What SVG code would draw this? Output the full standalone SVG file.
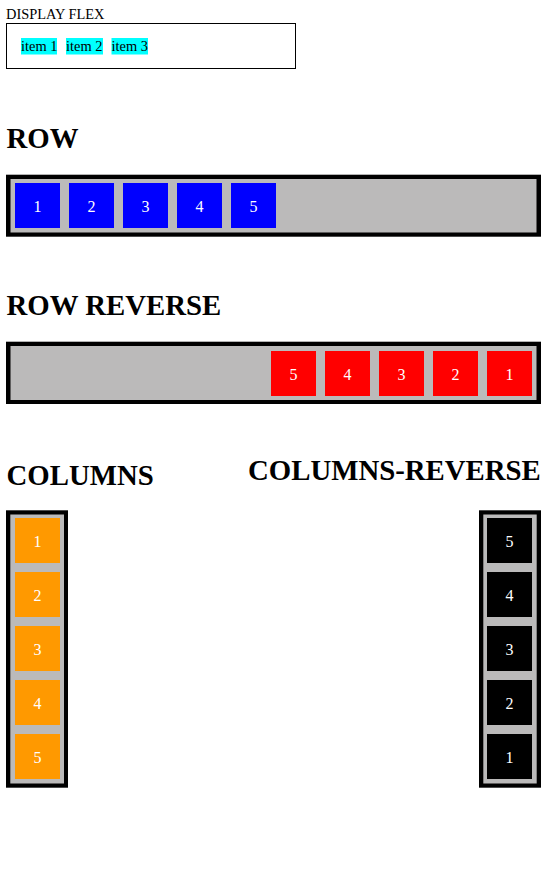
<svg xmlns="http://www.w3.org/2000/svg" width="545" height="881" viewBox="0 0 545 881">
<style>
text{font-family:"Liberation Serif","Times New Roman",serif}
.h{font-size:28.8px;font-weight:bold;fill:#000}
.s{font-size:14.4px;fill:#000}
.n{font-size:16px;fill:#fff;text-anchor:middle}
.frame{fill:#000}
.gray{fill:#bbbaba}
.blue{fill:#0000ff}
.red{fill:#ff0000}
.orange{fill:#ff9900}
.black{fill:#000}
.cyan{fill:#00ffff}
</style>
<rect width="545" height="881" fill="#fff"/>
<g id="display-flex">
<text class="s" x="6" y="19">DISPLAY FLEX</text>
<rect x="6.5" y="23.5" width="289" height="45" fill="none" stroke="#000" stroke-width="1"/>
<rect class="cyan" x="21" y="38" width="36" height="16.5"/>
<rect class="cyan" x="66" y="38" width="37" height="16.5"/>
<rect class="cyan" x="111.5" y="38" width="36.5" height="16.5"/>
<text class="s" x="21" y="50.5">item 1</text>
<text class="s" x="66" y="50.5">item 2</text>
<text class="s" x="111.5" y="50.5">item 3</text>
</g>
<g id="row">
<text class="h" x="6.5" y="147.5">ROW</text>
<rect class="frame" x="6" y="174.7" width="535" height="62"/>
<rect class="gray" x="10.5" y="179" width="526" height="53.5"/>
<rect class="blue" x="15" y="183" width="45" height="45"/><text class="n" x="37.5" y="211.5">1</text>
<rect class="blue" x="69" y="183" width="45" height="45"/><text class="n" x="91.5" y="211.5">2</text>
<rect class="blue" x="123" y="183" width="45" height="45"/><text class="n" x="145.5" y="211.5">3</text>
<rect class="blue" x="177" y="183" width="45" height="45"/><text class="n" x="199.5" y="211.5">4</text>
<rect class="blue" x="231" y="183" width="45" height="45"/><text class="n" x="253.5" y="211.5">5</text>
</g>
<g id="row-reverse">
<text class="h" x="6.5" y="315">ROW REVERSE</text>
<rect class="frame" x="6" y="341.7" width="535" height="62.3"/>
<rect class="gray" x="10.5" y="346" width="526" height="54"/>
<rect class="red" x="271" y="351" width="45" height="45"/><text class="n" x="293.5" y="379.5">5</text>
<rect class="red" x="325" y="351" width="45" height="45"/><text class="n" x="347.5" y="379.5">4</text>
<rect class="red" x="379" y="351" width="45" height="45"/><text class="n" x="401.5" y="379.5">3</text>
<rect class="red" x="433" y="351" width="45" height="45"/><text class="n" x="455.5" y="379.5">2</text>
<rect class="red" x="487" y="351" width="45" height="45"/><text class="n" x="509.5" y="379.5">1</text>
</g>
<g id="columns">
<text class="h" x="6.5" y="484.5">COLUMNS</text>
<rect class="frame" x="6" y="510.3" width="62" height="277.4"/>
<rect class="gray" x="10.3" y="514.5" width="53.7" height="269"/>
<rect class="orange" x="15" y="518" width="45" height="45"/><text class="n" x="37.5" y="546.5">1</text>
<rect class="orange" x="15" y="572" width="45" height="45"/><text class="n" x="37.5" y="600.5">2</text>
<rect class="orange" x="15" y="626" width="45" height="45"/><text class="n" x="37.5" y="654.5">3</text>
<rect class="orange" x="15" y="680" width="45" height="45"/><text class="n" x="37.5" y="708.5">4</text>
<rect class="orange" x="15" y="734" width="45" height="45"/><text class="n" x="37.5" y="762.5">5</text>
</g>
<g id="columns-reverse">
<text class="h" x="248" y="479.5">COLUMNS-REVERSE</text>
<rect class="frame" x="479" y="510.3" width="62" height="277.4"/>
<rect class="gray" x="483.3" y="514.5" width="53.4" height="269"/>
<rect class="black" x="487" y="518" width="45" height="45"/><text class="n" x="509.5" y="546.5">5</text>
<rect class="black" x="487" y="572" width="45" height="45"/><text class="n" x="509.5" y="600.5">4</text>
<rect class="black" x="487" y="626" width="45" height="45"/><text class="n" x="509.5" y="654.5">3</text>
<rect class="black" x="487" y="680" width="45" height="45"/><text class="n" x="509.5" y="708.5">2</text>
<rect class="black" x="487" y="734" width="45" height="45"/><text class="n" x="509.5" y="762.5">1</text>
</g>
<g id="connectors"></g>
</svg>
